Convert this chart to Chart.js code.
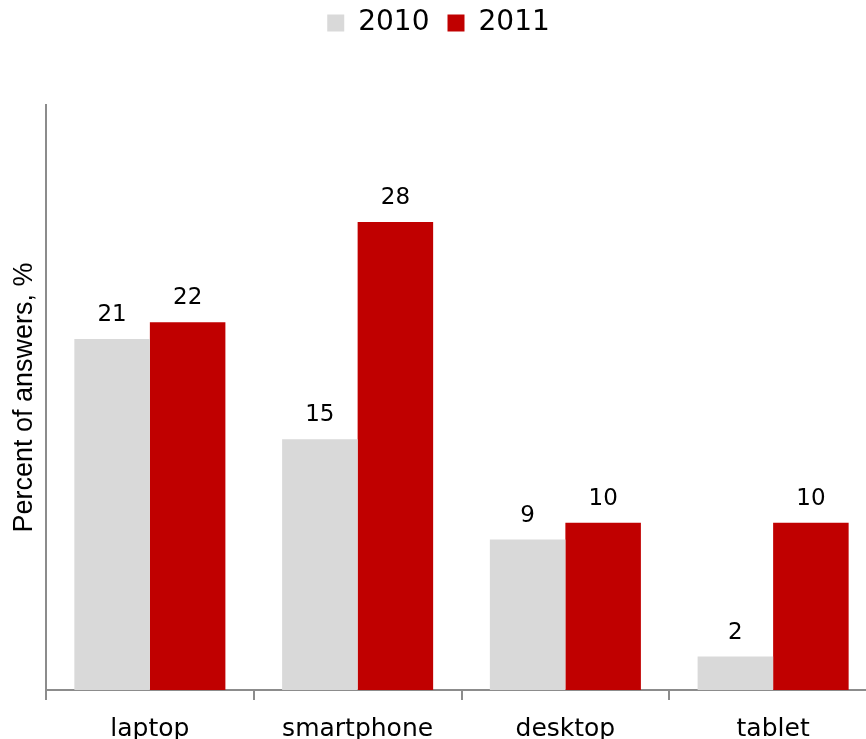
<!DOCTYPE html>
<html>
<head>
<meta charset="utf-8">
<script src="https://cdn.jsdelivr.net/npm/chart.js@4/dist/chart.umd.min.js"></script>
<style>
  html, body { margin: 0; padding: 0; background: #fff; width: 866px; height: 739px; overflow: hidden; }
  #wrap { position: relative; width: 880px; height: 739px; }
</style>
</head>
<body>
<div id="wrap"><canvas id="c" width="880" height="739"></canvas></div>
<script>
// Device used to answer, share of respondents by year
const categories = ['laptop', 'smartphone', 'desktop', 'tablet'];
const seriesNames = ['2010', '2011'];
const values2010 = [21, 15, 9, 2];
const values2011 = [22, 28, 10, 10];
const axisTitle = 'Percent of answers, %';

const GREY = '#d9d9d9';
const RED = '#c00000';
const AXIS = '#8c8c8c';

// Reserve a fixed band at the top for the legend
const legendBand = {
  id: 'legendBand',
  afterInit(chart) {
    const lg = chart.legend;
    if (!lg) return;
    const fit = lg.fit.bind(lg);
    lg.fit = function () { fit(); this.height = 114; };
  }
};

// Value printed above each bar
const valueLabels = {
  id: 'valueLabels',
  afterDatasetsDraw(chart) {
    const ctx = chart.ctx;
    ctx.save();
    ctx.font = '23px "DejaVu Sans"';
    ctx.fillStyle = '#000';
    ctx.textAlign = 'center';
    ctx.textBaseline = 'alphabetic';
    chart.data.datasets.forEach((ds, i) => {
      chart.getDatasetMeta(i).data.forEach((bar, j) => {
        ctx.fillText(String(ds.data[j]), bar.x, bar.y - 18);
      });
    });
    ctx.restore();
  }
};

new Chart(document.getElementById('c'), {
  type: 'bar',
  data: {
    labels: categories,
    datasets: [
      { label: seriesNames[0], data: values2010, backgroundColor: GREY, borderWidth: 0 },
      { label: seriesNames[1], data: values2011, backgroundColor: RED, borderWidth: 0 }
    ]
  },
  options: {
    responsive: false,
    animation: false,
    devicePixelRatio: 1,
    categoryPercentage: 0.727,
    barPercentage: 1,
    layout: { padding: { left: 0, right: 3, top: -9, bottom: 0 } },
    plugins: {
      legend: {
        display: true,
        position: 'top',
        labels: {
          boxWidth: 17,
          boxHeight: 17,
          padding: 18,
          color: '#000',
          font: { family: 'DejaVu Sans', size: 28 }
        }
      },
      tooltip: { enabled: false }
    },
    scales: {
      x: {
        grid: { display: true, drawOnChartArea: false, drawTicks: true, tickLength: 10, offset: true, color: AXIS, lineWidth: 2 },
        border: { display: true, color: AXIS, width: 2 },
        ticks: { color: '#000', padding: 14, font: { family: 'DejaVu Sans', size: 25 } },
        afterFit(s) { s.height = 49; }
      },
      y: {
        min: 0,
        max: 35,
        grid: { display: false, drawTicks: false },
        border: { display: true, color: AXIS, width: 2 },
        ticks: { display: false },
        title: {
          display: true,
          text: axisTitle,
          color: '#000',
          font: { family: 'Liberation Sans', size: 27 },
          padding: { top: 8, bottom: 0 }
        },
        afterFit(s) { s.width = 46; }
      }
    }
  },
  plugins: [legendBand, valueLabels]
});
</script>
</body>
</html>
